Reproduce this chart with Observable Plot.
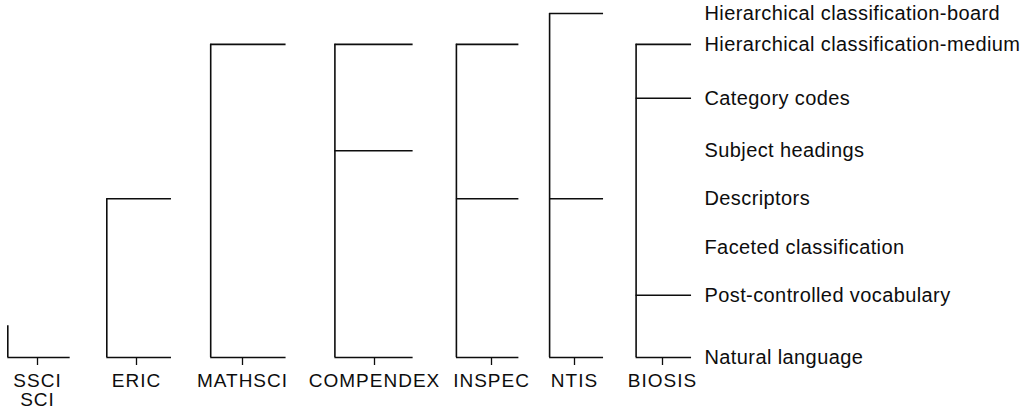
<!DOCTYPE html>
<html>
<head>
<meta charset="utf-8">
<script src="https://cdn.jsdelivr.net/npm/d3@7"></script>
<script src="https://cdn.jsdelivr.net/npm/@observablehq/plot@0.6"></script>
<style>
  html, body { margin: 0; padding: 0; background: #fff; }
  #chart svg { display: block; }
  #chart g[aria-label="x-axis tick label"] text { letter-spacing: 1px; }
  #chart g[aria-label="y-axis tick label"] text { letter-spacing: 0.4px; }
</style>
</head>
<body>
<div id="chart"></div>
<script>
// Databases along the bottom (ordered left to right)
const databases = ["SSCI\nSCI", "ERIC", "MATHSCI", "COMPENDEX", "INSPEC", "NTIS", "BIOSIS"];

// Vocabulary levels, bottom to top, with their read-off vertical positions
const levels = [
  "Natural language",
  "Post-controlled vocabulary",
  "Faceted classification",
  "Descriptors",
  "Subject headings",
  "Category codes",
  "Hierarchical classification-medium",
  "Hierarchical classification-board"
];
const levelValues = [0, 1.27, 2.24, 3.24, 4.22, 5.29, 6.39, 7.02];

// Levels used by each database
const dbLevels = [
  ["Natural language"],
  ["Natural language", "Descriptors"],
  ["Natural language", "Hierarchical classification-medium"],
  ["Natural language", "Subject headings", "Hierarchical classification-medium"],
  ["Natural language", "Descriptors", "Hierarchical classification-medium"],
  ["Natural language", "Descriptors", "Hierarchical classification-board"],
  ["Natural language", "Post-controlled vocabulary", "Category codes", "Hierarchical classification-medium"]
];

// SSCI/SCI has only a short stub above natural language
const ssciStub = 0.65;

const valueOf = (l) => levelValues[levels.indexOf(l)];

const segments = dbLevels.flatMap((ls, i) => ls.map((l) => ({i, v: valueOf(l)})));
const spines = dbLevels.map((ls, i) => ({
  i,
  top: ls.length > 1 ? d3.max(ls, valueOf) : ssciStub
}));

const ink = "#0d0d0d";
const L = 0.3, R = 0.33;

const chart = Plot.plot({
  width: 1032,
  height: 420,
  marginTop: 13,
  marginBottom: 63,
  marginLeft: 10,
  marginRight: 370,
  style: {fontFamily: "'Liberation Sans', Arial, Helvetica, sans-serif", color: ink, background: "#fff"},
  x: {type: "linear", domain: d3.range(databases.length), range: [37, 136, 242, 374, 491, 574, 662]},
  y: {type: "linear", domain: d3.extent(levelValues)},
  marks: [
    Plot.ruleX(spines, {x: (d) => d.i - L, y1: 0, y2: "top", stroke: ink, strokeWidth: 1.6}),
    Plot.ruleY(segments, {y: "v", x1: (d) => d.i - L, x2: (d) => d.i + R, stroke: ink, strokeWidth: 1.6}),
    Plot.axisX({
      ticks: d3.range(databases.length),
      tickFormat: (i) => databases[i],
      tickSize: 8,
      tickPadding: 8,
      strokeWidth: 1.3,
      fontSize: 19,
      lineHeight: 1.0,
      label: null
    }),
    Plot.axisY({
      anchor: "right",
      ticks: levelValues,
      tickFormat: (d) => levels[levelValues.indexOf(d)],
      tickSize: 0,
      tickPadding: 42,
      fontSize: 20,
      label: null
    })
  ]
});

document.getElementById("chart").appendChild(chart);
</script>
</body>
</html>
